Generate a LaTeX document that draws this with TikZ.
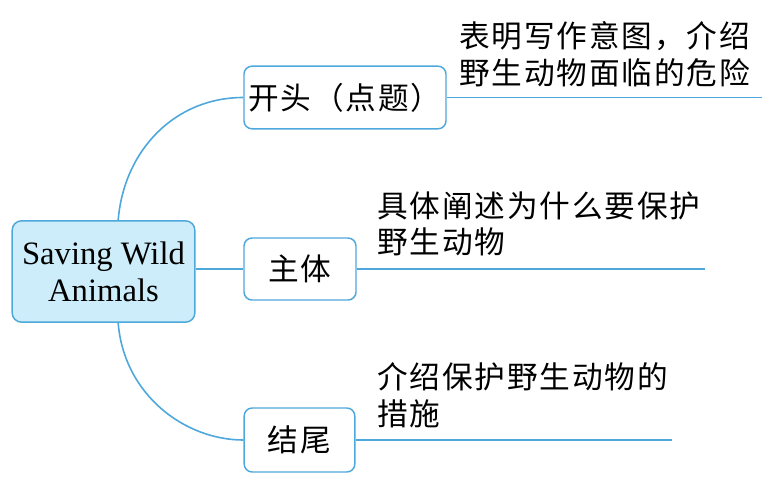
\documentclass[tikz,border=0pt]{standalone}
\usepackage{fontspec}
\setmainfont{Liberation Serif}
\newfontfamily\cjk[LetterSpace=6]{Noto Sans CJK SC}
\definecolor{mapblue}{RGB}{78,168,220}
\definecolor{mapfill}{RGB}{204,237,249}

\begin{document}
\begin{tikzpicture}[x=0.75pt, y=-0.75pt, link/.style={draw=mapblue, line width=1.2pt}, topicbox/.style={draw=mapblue, line width=1.1pt, rounded corners=6pt, fill=white, font=\cjk\fontsize{23}{27.5}\selectfont, inner sep=0pt}, note/.style={font=\cjk\fontsize{23}{27.5}\selectfont, align=left, anchor=west, inner sep=0pt}]
\useasboundingbox (0,0) rectangle (762,486);
\node[draw=mapblue, fill=mapfill, line width=1.1pt, rounded corners=7pt, minimum width=137pt, minimum height=76pt, align=center, font=\fontsize{24.5}{28}\selectfont] (root) at (103.5,271.5){Saving Wild\\Animals};
\node[topicbox, minimum width=151.5pt, minimum height=47pt] (open) at (345,97.5){开头（点题）};
\node[topicbox, minimum width=84pt, minimum height=46.5pt] (body) at (300,269){主体};
\node[topicbox, minimum width=83pt, minimum height=48pt] (ending) at (299.5,440){结尾};
\node[note] (open note) at (459,54){表明写作意图，介绍\\野生动物面临的危险};
\node[note] (body note) at (377,224){具体阐述为什么要保护\\野生动物};
\node[note] (ending note) at (377,395){介绍保护野生动物的\\措施};
\coordinate (open end) at (762,98);
\coordinate (body end) at (705,268);
\coordinate (ending end) at (672,438);
% branches
\draw[link] ([xshift=11pt]root.north) .. controls (124,150) and (175,97.5) .. (open.west);
\draw[link] (root.east |- body.west) -- (body.west);
\draw[link] ([xshift=11pt]root.south) .. controls (124,395) and (185,440) .. (ending.west);
% underlines
\draw[link] (open.east) -- (open.east -| open end);
\draw[link] (body.east) -- (body.east -| body end);
\draw[link] (ending.east) -- (ending.east -| ending end);
\end{tikzpicture}
\end{document}
